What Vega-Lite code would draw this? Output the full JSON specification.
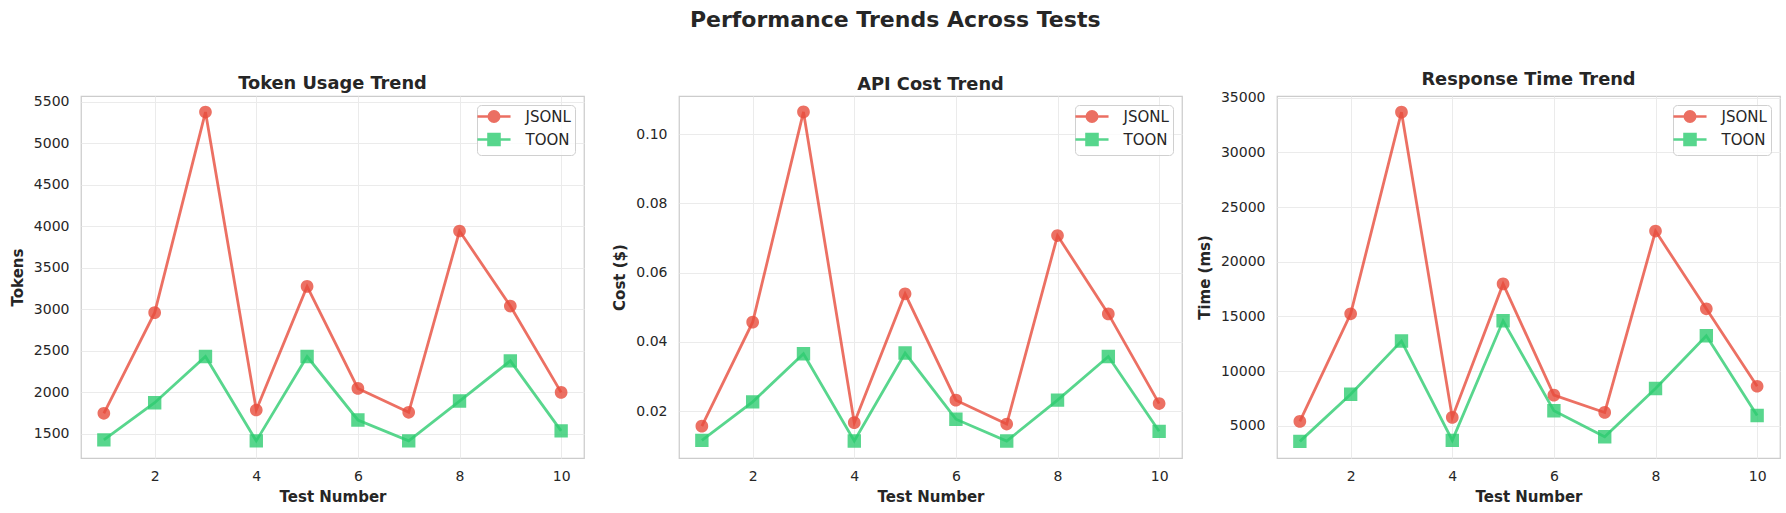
{
  "$schema": "https://vega.github.io/schema/vega-lite/v6.json",
  "background": "white",
  "padding": {"left": 9, "top": 9, "right": 5, "bottom": 5},
  "title": {"text": "Performance Trends Across Tests", "fontSize": 22, "anchor": "middle", "offset": 21, "baseline": "alphabetic"},
  "data": {"values": [
    {"test": 1, "format": "JSONL", "tokens": 1748, "cost": 0.0157, "time": 5395},
    {"test": 2, "format": "JSONL", "tokens": 2960, "cost": 0.0457, "time": 15238},
    {"test": 3, "format": "JSONL", "tokens": 5376, "cost": 0.1064, "time": 33679},
    {"test": 4, "format": "JSONL", "tokens": 1788, "cost": 0.0167, "time": 5760},
    {"test": 5, "format": "JSONL", "tokens": 3276, "cost": 0.0539, "time": 17972},
    {"test": 6, "format": "JSONL", "tokens": 2048, "cost": 0.0232, "time": 7795},
    {"test": 7, "format": "JSONL", "tokens": 1760, "cost": 0.0163, "time": 6215},
    {"test": 8, "format": "JSONL", "tokens": 3944, "cost": 0.0707, "time": 22803},
    {"test": 9, "format": "JSONL", "tokens": 3040, "cost": 0.0481, "time": 15694},
    {"test": 10, "format": "JSONL", "tokens": 2000, "cost": 0.0222, "time": 8615},
    {"test": 1, "format": "TOON", "tokens": 1428, "cost": 0.0116, "time": 3572},
    {"test": 2, "format": "TOON", "tokens": 1876, "cost": 0.0227, "time": 7886},
    {"test": 3, "format": "TOON", "tokens": 2432, "cost": 0.0366, "time": 12747},
    {"test": 4, "format": "TOON", "tokens": 1416, "cost": 0.0114, "time": 3663},
    {"test": 5, "format": "TOON", "tokens": 2432, "cost": 0.0368, "time": 14600},
    {"test": 6, "format": "TOON", "tokens": 1668, "cost": 0.0177, "time": 6367},
    {"test": 7, "format": "TOON", "tokens": 1416, "cost": 0.0114, "time": 3997},
    {"test": 8, "format": "TOON", "tokens": 1896, "cost": 0.0232, "time": 8403},
    {"test": 9, "format": "TOON", "tokens": 2380, "cost": 0.0358, "time": 13233},
    {"test": 10, "format": "TOON", "tokens": 1536, "cost": 0.0142, "time": 5942}
  ]},
  "bounds": "flush",
  "spacing": 95,
  "resolve": {"scale": {"color": "independent", "shape": "independent"}, "legend": {"color": "independent", "shape": "independent"}},
  "hconcat": [
    {
      "width": 503, "height": 362,
      "title": "Token Usage Trend",
      "encoding": {
        "x": {"field": "test", "type": "quantitative", "scale": {"domain": [0.55, 10.45], "nice": false, "zero": false}, "axis": {"values": [2, 4, 6, 8, 10], "title": "Test Number"}},
        "y": {"field": "tokens", "type": "quantitative", "scale": {"domain": [1210, 5570], "nice": false, "zero": false}, "axis": {"values": [1500, 2000, 2500, 3000, 3500, 4000, 4500, 5000, 5500], "format": "d", "title": "Tokens"}},
        "color": {"field": "format", "type": "nominal", "scale": {"domain": ["JSONL", "TOON"], "range": ["#e74c3c", "#2ecc71"]},
          "legend": {"title": null, "orient": "top-right", "offset": 9, "padding": 4, "symbolSize": 130, "symbolStrokeWidth": 2.5, "symbolOffset": 5.5, "labelOffset": 24, "labelFontSize": 15, "labelFont": "DejaVu Sans", "labelColor": "#262626", "rowPadding": 1, "fillColor": "rgba(255,255,255,0.8)", "strokeColor": "#d0d0d0", "cornerRadius": 4,
            "encode": {"symbols": {
              "stroke": {"value": {"expr": "datum.value === 'JSONL' ? '#e74c3c' : '#2ecc71'"}},
              "strokeWidth": {"value": 2.5}}}}}
      },
      "layer": [
        {"mark": {"type": "line", "strokeWidth": 2.8, "opacity": 0.8}},
        {"mark": {"type": "point", "filled": true, "opacity": 0.8, "size": 190},
          "encoding": {"shape": {"field": "format", "type": "nominal", "scale": {"domain": ["JSONL", "TOON"], "range": ["M-2.9,0L2.9,0M-0.92,0A0.92,0.92,0,1,1,0.92,0A0.92,0.92,0,1,1,-0.92,0Z", "M-2.9,0L2.9,0M-0.97,-0.97L0.97,-0.97L0.97,0.97L-0.97,0.97Z"]}, "legend": null}}}
      ]
    },
    {
      "width": 503, "height": 362,
      "title": "API Cost Trend",
      "encoding": {
        "x": {"field": "test", "type": "quantitative", "scale": {"domain": [0.55, 10.45], "nice": false, "zero": false}, "axis": {"values": [2, 4, 6, 8, 10], "title": "Test Number"}},
        "y": {"field": "cost", "type": "quantitative", "scale": {"domain": [0.0065, 0.111], "nice": false, "zero": false}, "axis": {"values": [0.02, 0.04, 0.06, 0.08, 0.10], "format": ".2f", "title": "Cost ($)"}},
        "color": {"field": "format", "type": "nominal", "scale": {"domain": ["JSONL", "TOON"], "range": ["#e74c3c", "#2ecc71"]},
          "legend": {"title": null, "orient": "top-right", "offset": 9, "padding": 4, "symbolSize": 130, "symbolStrokeWidth": 2.5, "symbolOffset": 5.5, "labelOffset": 24, "labelFontSize": 15, "labelFont": "DejaVu Sans", "labelColor": "#262626", "rowPadding": 1, "fillColor": "rgba(255,255,255,0.8)", "strokeColor": "#d0d0d0", "cornerRadius": 4,
            "encode": {"symbols": {
              "stroke": {"value": {"expr": "datum.value === 'JSONL' ? '#e74c3c' : '#2ecc71'"}},
              "strokeWidth": {"value": 2.5}}}}}
      },
      "layer": [
        {"mark": {"type": "line", "strokeWidth": 2.8, "opacity": 0.8}},
        {"mark": {"type": "point", "filled": true, "opacity": 0.8, "size": 190},
          "encoding": {"shape": {"field": "format", "type": "nominal", "scale": {"domain": ["JSONL", "TOON"], "range": ["M-2.9,0L2.9,0M-0.92,0A0.92,0.92,0,1,1,0.92,0A0.92,0.92,0,1,1,-0.92,0Z", "M-2.9,0L2.9,0M-0.97,-0.97L0.97,-0.97L0.97,0.97L-0.97,0.97Z"]}, "legend": null}}}
      ]
    },
    {
      "width": 503, "height": 362,
      "title": "Response Time Trend",
      "encoding": {
        "x": {"field": "test", "type": "quantitative", "scale": {"domain": [0.55, 10.45], "nice": false, "zero": false}, "axis": {"values": [2, 4, 6, 8, 10], "title": "Test Number"}},
        "y": {"field": "time", "type": "quantitative", "scale": {"domain": [2050, 35160], "nice": false, "zero": false}, "axis": {"values": [5000, 10000, 15000, 20000, 25000, 30000, 35000], "format": "d", "title": "Time (ms)"}},
        "color": {"field": "format", "type": "nominal", "scale": {"domain": ["JSONL", "TOON"], "range": ["#e74c3c", "#2ecc71"]},
          "legend": {"title": null, "orient": "top-right", "offset": 9, "padding": 4, "symbolSize": 130, "symbolStrokeWidth": 2.5, "symbolOffset": 5.5, "labelOffset": 24, "labelFontSize": 15, "labelFont": "DejaVu Sans", "labelColor": "#262626", "rowPadding": 1, "fillColor": "rgba(255,255,255,0.8)", "strokeColor": "#d0d0d0", "cornerRadius": 4,
            "encode": {"symbols": {
              "stroke": {"value": {"expr": "datum.value === 'JSONL' ? '#e74c3c' : '#2ecc71'"}},
              "strokeWidth": {"value": 2.5}}}}}
      },
      "layer": [
        {"mark": {"type": "line", "strokeWidth": 2.8, "opacity": 0.8}},
        {"mark": {"type": "point", "filled": true, "opacity": 0.8, "size": 190},
          "encoding": {"shape": {"field": "format", "type": "nominal", "scale": {"domain": ["JSONL", "TOON"], "range": ["M-2.9,0L2.9,0M-0.92,0A0.92,0.92,0,1,1,0.92,0A0.92,0.92,0,1,1,-0.92,0Z", "M-2.9,0L2.9,0M-0.97,-0.97L0.97,-0.97L0.97,0.97L-0.97,0.97Z"]}, "legend": null}}}
      ]
    }
  ],
  "config": {
    "font": "DejaVu Sans",
    "view": {"stroke": "#cccccc", "strokeWidth": 1.25},
    "title": {"font": "DejaVu Sans", "fontWeight": "bold", "fontSize": 17.8, "color": "#262626", "baseline": "alphabetic", "offset": 2},
    "axis": {"labelFont": "DejaVu Sans", "labelFontSize": 14, "labelColor": "#262626", "titleFont": "DejaVu Sans", "titleFontSize": 15, "titleFontWeight": "bold", "titleColor": "#262626", "grid": true, "gridColor": "#ebebeb", "gridWidth": 1, "domain": false, "ticks": false, "tickSize": 0, "labelFlush": false},
    "axisX": {"labelPadding": 11, "titlePadding": 6},
    "axisY": {"labelPadding": 12, "titlePadding": 8}
  }
}
